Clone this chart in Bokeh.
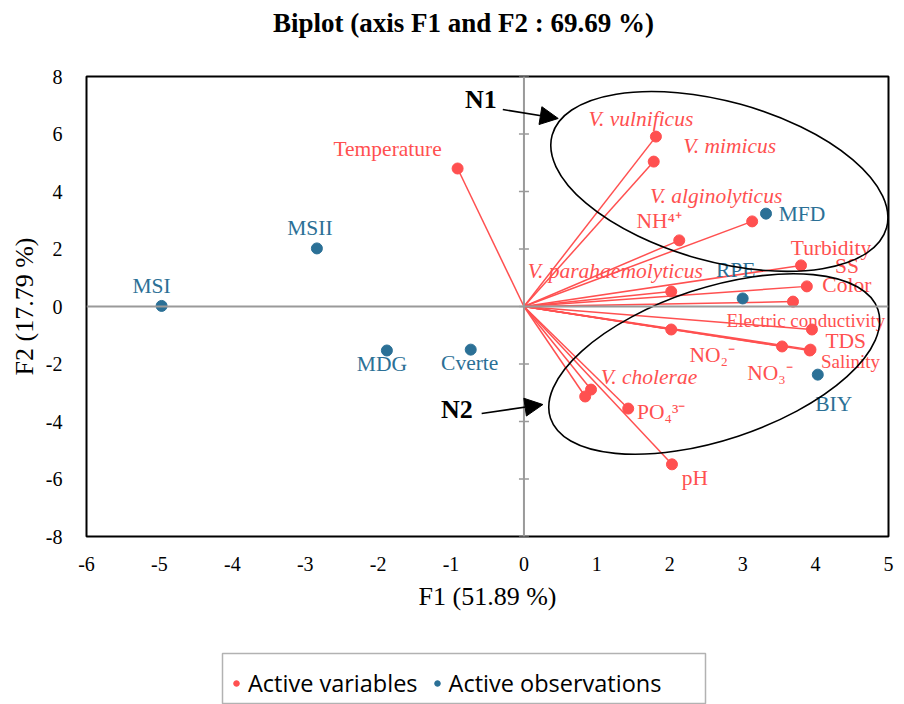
from bokeh.plotting import figure
from bokeh.layouts import column
from bokeh.models import (Range1d, FixedTicker, Span, Arrow, NormalHead, Label,
                          Legend, LegendItem, ColumnDataSource, BoxAnnotation)
from bokeh.core.properties import value
from bokeh.embed import file_html
from bokeh.resources import INLINE

# ---- PCA biplot coordinates (F1, F2) ----
var_names = ["Temperature", "V. vulnificus", "V. mimicus", "V. alginolyticus", "NH⁴⁺",
             "V. parahaemolyticus", "Turbidity", "Color", "SS", "Electric conductivity",
             "TDS", "Salinity", "NO₂⁻", "NO₃⁻", "V. cholerae", "", "PO₄³⁻", "pH"]
var_f1 = [-0.91, 1.81, 1.78, 3.13, 2.13, 2.02, 3.80, 3.88, 3.69, 3.95,
          3.92, 3.93, 2.02, 3.54, 0.92, 0.84, 1.43, 2.03]
var_f2 = [4.80, 5.91, 5.04, 2.96, 2.30, 0.52, 1.43, 0.70, 0.17, -0.80,
          -1.53, -1.50, -0.80, -1.39, -2.89, -3.13, -3.55, -5.49]

obs_names = ["MSI", "MSII", "MDG", "Cverte", "MFD", "RPE", "BIY"]
obs_f1 = [-4.97, -2.84, -1.88, -0.73, 3.32, 3.00, 4.03]
obs_f2 = [0.02, 2.02, -1.53, -1.50, 3.23, 0.28, -2.37]

x_ticks = [-6, -5, -4, -3, -2, -1, 0, 1, 2, 3, 4, 5]
y_ticks = [-8, -6, -4, -2, 0, 2, 4, 6, 8]

TITLE = "Biplot (axis F1 and F2 : 69.69 %)"

# ---- styling / layout ----
RED = "#FF5050"
BLUE = "#2B7096"
SERIF = "Liberation Serif"
W = 904
FRAME_LEFT, FRAME_RIGHT = 86, 888   # frame edges shared by all stacked figures
italic_names = {"V. vulnificus", "V. mimicus", "V. alginolyticus",
                "V. parahaemolyticus", "V. cholerae"}
small_names = {"Electric conductivity", "Salinity"}

# label offsets in screen pixels (dx right, dy down), text centred
var_label_offsets = {
    "Temperature": (-70, -20), "V. vulnificus": (-15, -18), "V. mimicus": (76, -16),
    "V. alginolyticus": (-36, -25), "NH⁴⁺": (-20, -19), "V. parahaemolyticus": (-56, -21),
    "Turbidity": (30, -17), "Color": (40, -1), "SS": (54, -36),
    "Electric conductivity": (-6, -9), "TDS": (36, -9), "Salinity": (40, 12),
    "NO₂⁻": (41, 25), "NO₃⁻": (-12, 27), "V. cholerae": (58, -13), "": (0, 0),
    "PO₄³⁻": (33, 3), "pH": (23, 14),
}
obs_label_offsets = {
    "MSI": (-10, -20), "MSII": (-7, -20), "MDG": (-5, 14), "Cverte": (-1, 13),
    "MFD": (36, 0), "RPE": (-7, -28), "BIY": (16, 29),
}


def blank_strip(height):
    """A plain strip figure; x runs in canvas pixels across the shared frame."""
    f = figure(width=W, height=height, x_range=Range1d(FRAME_LEFT, FRAME_RIGHT),
               y_range=Range1d(0, height),
               output_backend="svg", toolbar_location=None,
               x_axis_location=None, y_axis_location=None,
               min_border=0, min_border_top=0, min_border_bottom=0)
    f.xgrid.visible = False
    f.ygrid.visible = False
    f.outline_line_color = None
    return f


# ---- title strip ----
head = blank_strip(50)
head.add_layout(Label(x=463, y=28, text=TITLE, text_font=SERIF, text_font_size="27px",
                      text_font_style="bold", text_color="black",
                      text_align="center", text_baseline="middle"))

# ---- main biplot ----
p = figure(width=W, height=590, x_range=Range1d(-6, 5), y_range=Range1d(-8, 8),
           output_backend="svg", toolbar_location=None,
           min_border_left=FRAME_LEFT, min_border_right=W - FRAME_RIGHT,
           min_border_top=26, min_border_bottom=104)

p.xgrid.visible = False
p.ygrid.visible = False
p.outline_line_color = "black"
p.outline_line_width = 2
p.background_fill_color = "white"

p.xaxis.ticker = FixedTicker(ticks=x_ticks)
p.yaxis.ticker = FixedTicker(ticks=y_ticks)
p.xaxis.major_label_overrides = {t: str(t) for t in x_ticks}
p.yaxis.major_label_overrides = {t: str(t) for t in y_ticks}
p.xaxis.axis_label = "F1 (51.89 %)"
p.yaxis.axis_label = "F2 (17.79 %)"
for ax in (p.xaxis, p.yaxis):
    ax.axis_line_color = None
    ax.major_tick_line_color = None
    ax.minor_tick_line_color = None
    ax.major_label_text_font = SERIF
    ax.major_label_text_font_size = "20px"
    ax.major_label_text_color = "black"
    ax.axis_label_text_font = SERIF
    ax.axis_label_text_font_size = "26px"
    ax.axis_label_text_font_style = "normal"
    ax.axis_label_text_color = "black"
p.xaxis.major_label_standoff = 14
p.xaxis.axis_label_standoff = 8
p.yaxis.major_label_standoff = 18
p.yaxis.axis_label_standoff = 4

# zero lines with tick marks on the vertical one
p.add_layout(Span(location=0, dimension="height", line_color="#9A9A9A", line_width=2))
p.add_layout(Span(location=0, dimension="width", line_color="#9A9A9A", line_width=2))
p.scatter(x=[0] * len(y_ticks), y=y_ticks, marker="dash", size=10,
          line_color="#9A9A9A", line_width=1.5)

# variable vectors
p.segment(x0=[0] * len(var_f1), y0=[0] * len(var_f2), x1=var_f1, y1=var_f2,
          line_color=RED, line_width=1.5)

var_src = ColumnDataSource(dict(
    x=var_f1, y=var_f2, name=var_names,
    dx=[var_label_offsets[n][0] for n in var_names],
    dy=[var_label_offsets[n][1] for n in var_names],
    style=["italic" if n in italic_names else "normal" for n in var_names],
    fsize=["19px" if n in small_names else "21.5px" for n in var_names],
))
obs_src = ColumnDataSource(dict(
    x=obs_f1, y=obs_f2, name=obs_names,
    dx=[obs_label_offsets[n][0] for n in obs_names],
    dy=[obs_label_offsets[n][1] for n in obs_names],
))

p.scatter("x", "y", source=var_src, size=11, color=RED)
p.scatter("x", "y", source=obs_src, size=11, color=BLUE)

p.text("x", "y", text="name", source=var_src, x_offset="dx", y_offset="dy",
       text_align="center", text_baseline="middle", text_color=RED,
       text_font=value(SERIF), text_font_size="fsize", text_font_style="style")
p.text("x", "y", text="name", source=obs_src, x_offset="dx", y_offset="dy",
       text_align="center", text_baseline="middle", text_color=BLUE,
       text_font=value(SERIF), text_font_size="21.5px")

# group ellipses N1 and N2
p.ellipse(x=[2.68, 2.61], y=[4.35, -2.0], width=[347, 345], height=[160, 152],
          angle=[-0.27, 0.32], width_units="screen", height_units="screen",
          fill_alpha=0, line_color="black", line_width=1.6)

for (lx, ly, txt), (xs, ys, xe, ye) in [((-0.59, 7.2, "N1"), (-0.29, 6.85, 0.47, 6.54)),
                                          ((-0.92, -3.58, "N2"), (-0.58, -3.72, 0.26, -3.41))]:
    p.add_layout(Label(x=lx, y=ly, text=txt, text_font=SERIF, text_font_size="26px",
                       text_font_style="bold", text_color="black",
                       text_align="center", text_baseline="middle"))
    p.add_layout(Arrow(end=NormalHead(size=18, fill_color="black", line_color="black"),
                       x_start=xs, y_start=ys, x_end=xe, y_end=ye,
                       line_color="black", line_width=1.6))

# ---- legend strip (key glyphs sit outside the strip's visible range) ----
foot = blank_strip(64)
foot.add_layout(BoxAnnotation(left=222, right=705, bottom=1, top=51,
                              fill_color=None, fill_alpha=0,
                              line_color="black", line_width=1.5))
key_var = foot.scatter(x=[-1000], y=[-1000], size=11, color=RED)
key_obs = foot.scatter(x=[-1000], y=[-1000], size=11, color=BLUE)
legend = Legend(items=[LegendItem(label="Active variables", renderers=[key_var]),
                       LegendItem(label="Active observations", renderers=[key_obs])],
                orientation="horizontal", location=(229 - FRAME_LEFT, 5),
                border_line_color=None, background_fill_alpha=0,
                label_text_font="Open Sans", label_text_font_size="23.5px",
                label_text_color="black", label_standoff=5,
                glyph_width=14, glyph_height=14, label_height=26,
                spacing=12, padding=0)
foot.add_layout(legend)

page = column(head, p, foot, spacing=0)
open("out.html", "w").write(file_html(page, INLINE))
